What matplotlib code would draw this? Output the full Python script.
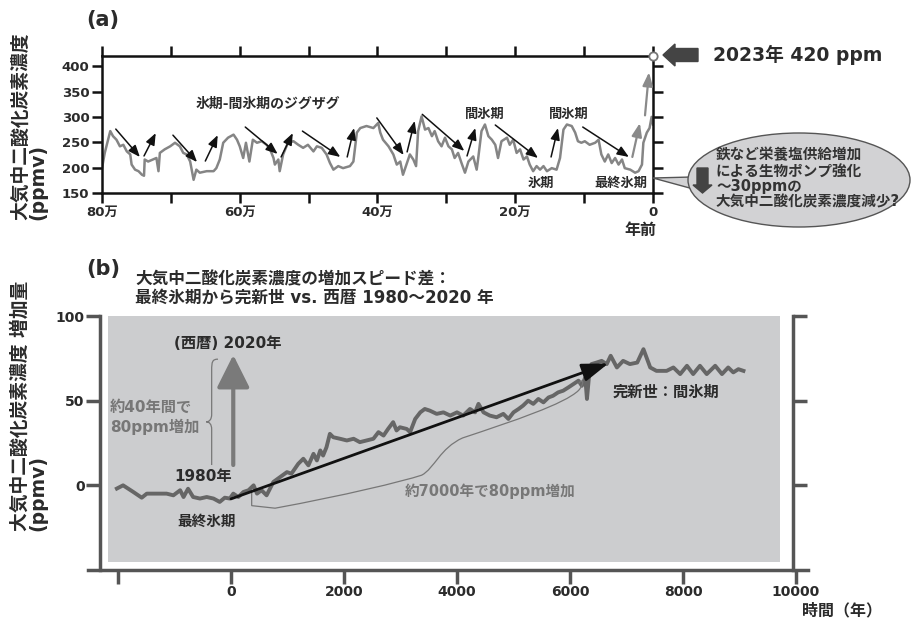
import matplotlib.pyplot as plt
from matplotlib.patches import Ellipse, Polygon, Rectangle, FancyArrow, PathPatch
from matplotlib.path import Path

plt.rcParams['font.family'] = ['DejaVu Sans', 'Noto Sans CJK JP']
plt.rcParams['font.weight'] = 'bold'
plt.rcParams['axes.unicode_minus'] = False

# ---- (a) ice core CO2, 800 kyr -> today
age_kyr = [800, 796, 788, 784, 779, 774, 769, 764, 759, 757,
           752, 747, 742, 739, 738, 733, 726, 721, 718, 716,
           709, 701, 694, 687, 682, 677, 672, 667, 663, 658,
           648, 638, 634, 629, 624, 617, 609, 604, 600, 595,
           591, 586, 581, 575, 568, 561, 556, 551, 549, 544,
           542, 537, 530, 522, 515, 508, 501, 493, 488, 481,
           474, 469, 464, 457, 450, 440, 435, 430, 425, 416,
           406, 399, 396, 392, 384, 377, 372, 367, 363, 358,
           353, 348, 344, 341, 336, 331, 326, 321, 317, 312,
           307, 302, 297, 292, 288, 283, 278, 273, 268, 261,
           256, 254, 249, 244, 239, 234, 229, 225, 220, 212,
           208, 203, 198, 193, 188, 183, 179, 174, 169, 164,
           159, 154, 147, 140, 135, 130, 125, 118, 113, 109,
           104, 99, 92, 84, 79, 75, 70, 65, 60, 55,
           50, 45, 41, 33, 26, 21, 16, 14, 9, 5,
           2, 0]
co2_ppm = [199, 229, 272, 262, 255, 242, 245, 232, 226, 206,
           196, 193, 186, 184, 216, 212, 216, 219, 193, 229,
           236, 242, 249, 242, 229, 226, 212, 176, 196, 190,
           193, 193, 199, 216, 249, 259, 265, 255, 242, 219,
           249, 212, 255, 249, 252, 245, 236, 219, 206, 216,
           193, 226, 249, 252, 245, 239, 245, 232, 242, 239,
           226, 209, 196, 203, 199, 203, 212, 269, 278, 282,
           278, 288, 269, 255, 242, 226, 206, 212, 186, 206,
           226, 216, 203, 272, 301, 275, 278, 262, 272, 252,
           242, 259, 242, 236, 219, 229, 209, 190, 212, 222,
           196, 216, 272, 285, 262, 255, 245, 219, 252, 259,
           245, 255, 229, 236, 216, 222, 206, 193, 203, 196,
           203, 193, 199, 196, 219, 275, 285, 282, 269, 252,
           249, 252, 245, 249, 255, 226, 212, 226, 209, 219,
           206, 216, 199, 196, 190, 193, 206, 249, 269, 278,
           300, 285]
a_xticks = [800, 600, 400, 200, 0]
a_xlabels = ['80万', '60万', '40万', '20万', '0']
a_yticks = [150, 200, 250, 300, 350, 400]
now_ppm = 420

# ---- (b) deglacial rise vs. modern rise
b_time = [-2020, -1910, -1730, -1580, -1490, -1320, -1140, -1020, -900, -840,
          -760, -670, -550, -430, -310, -200, -110, -20, 40, 130,
          220, 310, 400, 460, 540, 630, 750, 870, 990, 1070,
          1190, 1280, 1370, 1460, 1520, 1580, 1630, 1690, 1750, 1810,
          1930, 2050, 2170, 2280, 2400, 2520, 2610, 2700, 2780, 2870,
          2930, 2990, 3110, 3170, 3260, 3350, 3430, 3520, 3640, 3760,
          3880, 4000, 4110, 4230, 4320, 4380, 4470, 4580, 4700, 4820,
          4910, 5000, 5090, 5170, 5260, 5350, 5440, 5530, 5620, 5700,
          5790, 5880, 5970, 6060, 6150, 6210, 6270, 6300, 6340, 6380,
          6470, 6560, 6650, 6720, 6830, 6940, 7060, 7190, 7300, 7420,
          7530, 7710, 7830, 7950, 8070, 8180, 8300, 8420, 8570, 8690,
          8800, 8890, 8980, 9070]
b_delta = [-1.9, 0, -3.9, -7.3, -4.9, -4.9, -4.9, -5.9, -2.9, -6.9,
           -2, -6.9, -7.8, -6.9, -7.8, -9.8, -7.3, -7.8, -4.9, -6.9,
           -3.9, -2.9, 0, -4.9, -2.9, -5.9, 2, 4.9, 7.8, 6.9,
           12.7, 15.7, 11.8, 18.6, 14.7, 20.6, 17.6, 22.5, 30.4, 28.4,
           27.5, 26.5, 27.5, 25.5, 26.5, 27.5, 31.4, 29.4, 33.3, 37.3,
           32.4, 34.3, 33.3, 31.4, 39.2, 43.1, 45.1, 44.1, 42.2, 43.1,
           41.2, 43.1, 41.2, 45.1, 43.1, 48.1, 43.1, 41.2, 40.2, 42.2,
           39.2, 43.1, 45.1, 47.1, 50, 48.1, 51, 49, 51.9, 52.9,
           54.9, 55.9, 57.8, 59.8, 61.8, 58.8, 63.7, 51, 65.7, 71.6,
           72.5, 73.5, 71.6, 76.5, 69.6, 73.5, 71.6, 72.5, 80.4, 69.6,
           67.6, 67.6, 69.6, 65.7, 70.6, 65.7, 70.6, 65.7, 70.6, 65.7,
           69.6, 66.7, 68.6, 67.6]
b_xticks = [-2000, 0, 2000, 4000, 6000, 8000, 10000]
b_xlabels = ['', '0', '2000', '4000', '6000', '8000', '10000']
b_yticks = [0, 50, 100]

W, H = 912, 624
fig = plt.figure(figsize=(W / 100, H / 100), dpi=100)
dark = '#2b2b2b'


def box(l, t, r, b):
    return [l / W, 1 - b / H, (r - l) / W, (b - t) / H]


# ================= panel (a)
ax1 = fig.add_axes(box(102, 56, 653, 193))
ax1.plot(age_kyr, co2_ppm, color='#858585', lw=1.8, zorder=2)
ax1.plot(0, now_ppm, 'o', mfc='white', mec='#777777', ms=6, mew=1.3,
         clip_on=False, zorder=5)
ax1.set_xlim(800, 0)
ax1.set_ylim(150, 420)
ax1.set_xticks(a_xticks, a_xlabels)
ax1.set_xticks([700, 500, 300, 100], minor=True)
ax1.set_yticks(a_yticks)
ax1.tick_params(which='both', direction='out', length=7, width=1.8,
                top=True, right=True, labelsize=9.5, labelcolor=dark,
                color='#111111', pad=2)
for s in ax1.spines.values():
    s.set_linewidth(1.8)
    s.set_color('#111111')

arrows_a = [((780, 276), (745, 221)), ((739, 223), (722, 268)),
            ((697, 264), (662, 211)), ((650, 213), (632, 264)),
            ((592, 280), (545, 227)), ((540, 221), (523, 268)),
            ((509, 272), (454, 221)), ((444, 221), (434, 278)),
            ((401, 298), (362, 225)), ((357, 231), (346, 292)),
            ((335, 305), (274, 233)), ((270, 223), (258, 278)),
            ((229, 284), (167, 219)), ((148, 221), (138, 278)),
            ((102, 280), (35, 221))]
for st, en in arrows_a:
    ax1.annotate('', xy=en, xytext=st,
                 arrowprops=dict(arrowstyle='-|>,head_length=0.7,head_width=0.28',
                                 color='#111111', lw=1.1, shrinkA=0, shrinkB=0))
for st, en in [((30, 221), (19, 288)), ((11.6, 303), (5.8, 388))]:
    ax1.annotate('', xy=en, xytext=st,
                 arrowprops=dict(arrowstyle='-|>,head_length=0.8,head_width=0.3',
                                 color='#8a8a8a', lw=1.6, shrinkA=0, shrinkB=0))

ax1.text(559, 325, '氷期-間氷期のジグザグ', fontsize=10, color=dark,
         ha='center', va='center')
ax1.text(244, 304, '間氷期', fontsize=9.5, color=dark, ha='center', va='center')
ax1.text(122, 304, '間氷期', fontsize=9.5, color=dark, ha='center', va='center')
ax1.text(163, 168, '氷期', fontsize=9.5, color=dark, ha='center', va='center')
ax1.text(46, 168, '最終氷期', fontsize=9.5, color=dark, ha='center', va='center')

# ================= panel (b)
ax2 = fig.add_axes(box(88, 316, 808, 570))
px = 1000 / 56.5  # years per pixel
ax2.set_xlim(-143 * px, 577 * px)
ax2.set_ylim(-50, 100)
ax2.patch.set_visible(False)
ax2.add_patch(Rectangle((-123 * px, -45.3), 672 * px, 145.3,
                        facecolor='#cccdcf', edgecolor='none', zorder=0))
ax2.plot(b_time, b_delta, color='#666666', lw=2.8, zorder=2)

ax2.spines['top'].set_visible(False)
ax2.spines['left'].set_position(('data', -131 * px))
ax2.spines['right'].set_position(('data', 562 * px))
for s in ['left', 'right', 'bottom']:
    ax2.spines[s].set_linewidth(2.5)
    ax2.spines[s].set_color('#555555')
ax2.set_xticks(b_xticks, b_xlabels)
ax2.set_yticks(b_yticks)
ax2.tick_params(direction='out', length=10, width=2.5, color='#555555',
                labelsize=10, labelcolor=dark, right=True, pad=1)

# black trend arrow
ax2.annotate('', xy=(6680, 72), xytext=(0, -8),
             arrowprops=dict(arrowstyle='-|>,head_length=1.6,head_width=0.55',
                             color='#111111', lw=2, shrinkA=0, shrinkB=0),
             zorder=4)
# gray modern arrow
ax2.annotate('', xy=(40, 77), xytext=(40, 12),
             arrowprops=dict(arrowstyle='-|>,head_length=2.0,head_width=1.0',
                             color='#7a7a7a', lw=3, shrinkA=0, shrinkB=0),
             zorder=4)

# braces
brace1 = Path([(-230, 74.5), (-330, 74.5), (-342, 73), (-342, 68),
               (-342, 42),
               (-342, 39), (-380, 37.5), (-440, 37.5),
               (-380, 37.5), (-342, 36), (-342, 33),
               (-342, 12)],
              [Path.MOVETO, Path.CURVE4, Path.CURVE4, Path.CURVE4,
               Path.LINETO,
               Path.CURVE4, Path.CURVE4, Path.CURVE4,
               Path.CURVE4, Path.CURVE4, Path.CURVE4,
               Path.LINETO])
ax2.add_patch(PathPatch(brace1, facecolor='none', edgecolor='#777777', lw=0.9,
                        zorder=3))
brace2 = Path([(366, -4), (366, -12), (780, -13.5),
               (2000, -6), (3000, 2), (3375, 6),
               (3600, 10), (3700, 22), (4100, 28),
               (5000, 38), (5900, 48), (6150, 56),
               (6260, 60), (6240, 64), (6150, 60)],
              [Path.MOVETO, Path.LINETO, Path.LINETO,
               Path.CURVE4, Path.CURVE4, Path.CURVE4,
               Path.CURVE4, Path.CURVE4, Path.CURVE4,
               Path.CURVE4, Path.CURVE4, Path.CURVE4,
               Path.CURVE4, Path.CURVE4, Path.CURVE4])
ax2.add_patch(PathPatch(brace2, facecolor='none', edgecolor='#777777', lw=0.9,
                        zorder=3))

ax2.text(-53, 84, '(西暦) 2020年', fontsize=11, color=dark, ha='center',
         va='center')
ax2.text(-2142, 40, '約40年間で\n80ppm増加', fontsize=11, color='#777777',
         ha='left', va='center', linespacing=1.25)
ax2.text(-496, 5.3, '1980年', fontsize=11, color=dark, ha='center', va='center')
ax2.text(-425, -21, '最終氷期', fontsize=10.5, color=dark, ha='center',
         va='center')
ax2.text(4584, -3.5, '約7000年で80ppm増加', fontsize=10.5, color='#777777',
         ha='center', va='center')
ax2.text(6761, 55, '完新世：間氷期', fontsize=11, color=dark, ha='left',
         va='center')

# ================= figure-level decorations (pixel coords)
ov = fig.add_axes([0, 0, 1, 1])
ov.set_xlim(0, W)
ov.set_ylim(H, 0)
ov.axis('off')
ov.patch.set_visible(False)

ov.text(103, 20, '(a)', fontsize=15, color=dark, ha='center', va='center')
ov.text(103, 269, '(b)', fontsize=15, color=dark, ha='center', va='center')
ov.text(29, 126, '大気中二酸化炭素濃度\n(ppmv)', fontsize=13.5, color=dark,
        rotation=90, ha='center', va='center', multialignment='left',
        linespacing=0.9)
ov.text(29, 406, '大気中二酸化炭素濃度 増加量\n(ppmv)', fontsize=13.5,
        color=dark, rotation=90, ha='center', va='center',
        multialignment='left', linespacing=0.9)
ov.text(640, 230, '年前', fontsize=11.5, color=dark, ha='center', va='center')
ov.text(882, 611, '時間（年）', fontsize=11.5, color=dark, ha='right',
        va='center')
ov.text(135, 279, '大気中二酸化炭素濃度の増加スピード差：', fontsize=12,
        color=dark, ha='left', va='center')
ov.text(135, 298, '最終氷期から完新世 vs. 西暦 1980～2020 年', fontsize=12,
        color=dark, ha='left', va='center')

ov.add_patch(FancyArrow(698, 55, -35, 0, width=13, head_width=22,
                        head_length=12, length_includes_head=True,
                        color='#444444'))
ov.text(713, 55, '2023年 420 ppm', fontsize=13.5, color=dark, ha='left',
        va='center')

ov.add_patch(Polygon([(653, 178), (692, 177), (697, 190)], closed=True,
                     facecolor='#d2d2d4', edgecolor='#555555', lw=1, zorder=1))
ov.add_patch(Ellipse((799, 180), 222, 94, facecolor='#d2d2d4',
                     edgecolor='#555555', lw=1, zorder=2))
ov.add_patch(FancyArrow(702.5, 168, 0, 25, width=11, head_width=19,
                        head_length=8, length_includes_head=True,
                        color='#444444', zorder=3))
for yy, line in [(155, '鉄など栄養塩供給増加'), (171, 'による生物ポンプ強化'),
                 (187, '～30ppmの'), (202, '大気中二酸化炭素濃度減少?')]:
    ov.text(716, yy, line, fontsize=10.5, color='#333333', ha='left',
            va='center', zorder=4)

fig.savefig('out.png', dpi=100)
